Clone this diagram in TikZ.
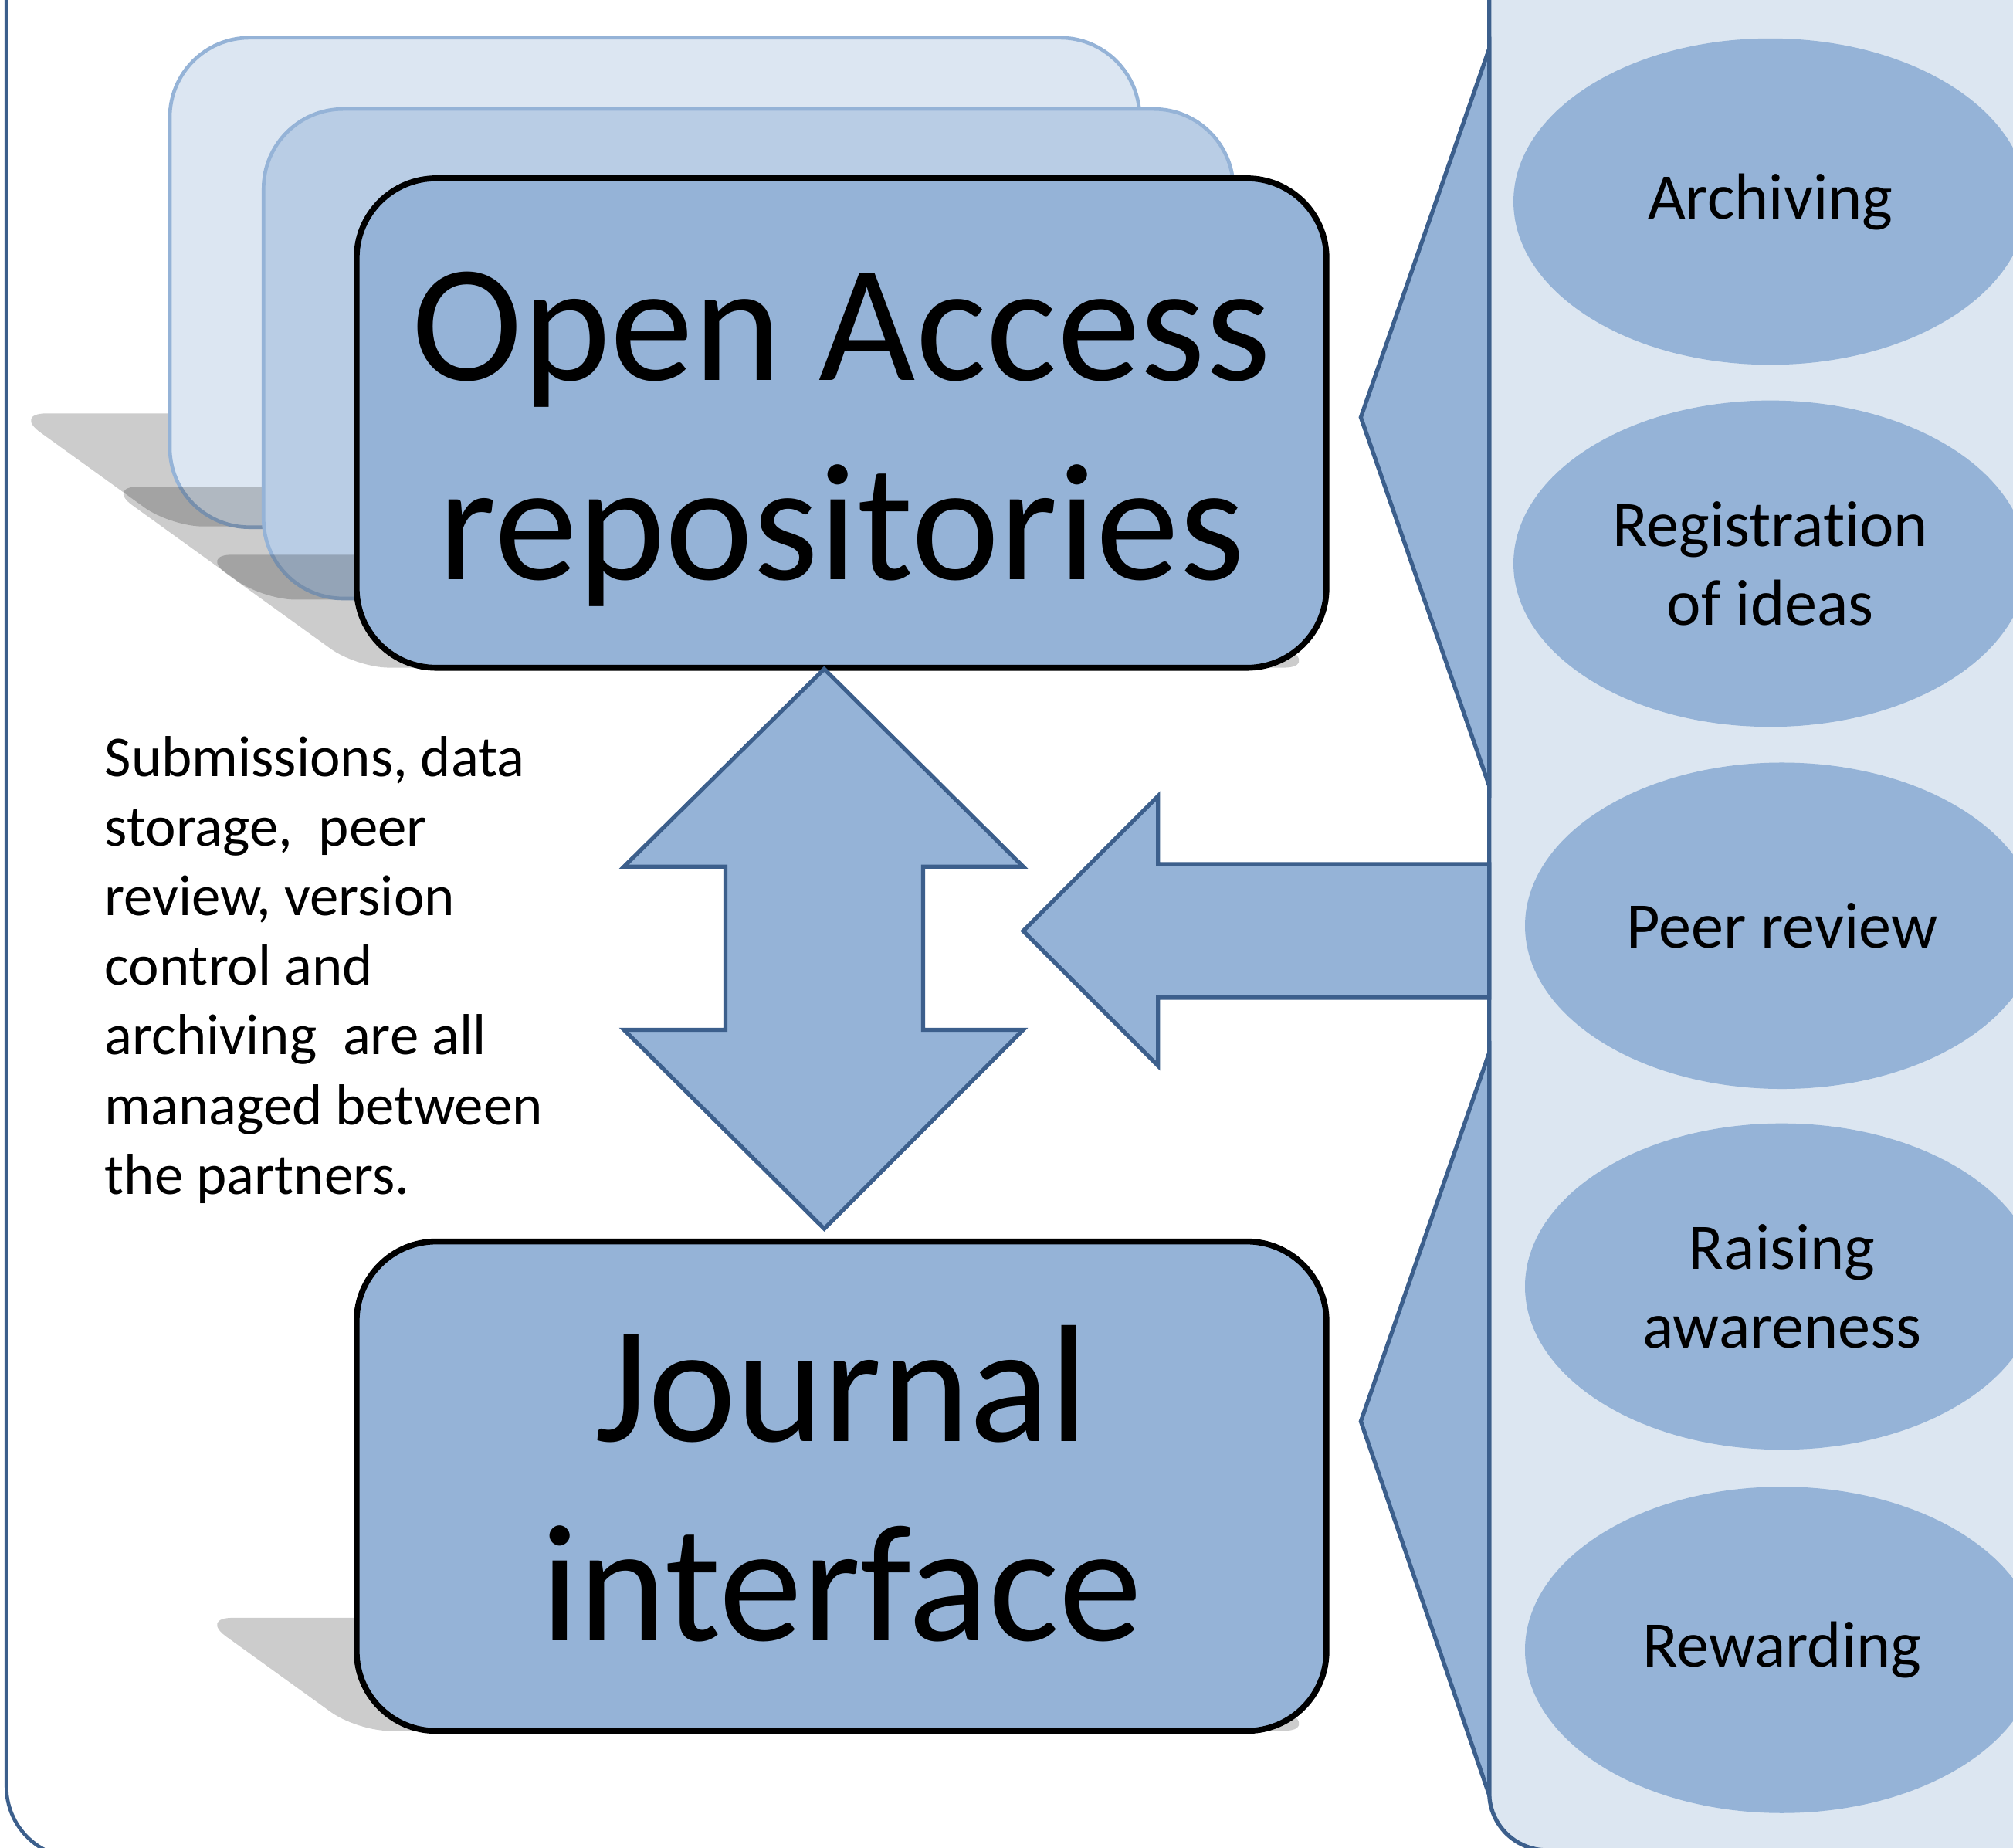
\documentclass[tikz,border=0pt]{standalone}
\usepackage{fontspec}
\setmainfont{Carlito}[Ligatures=NoCommon]
\usetikzlibrary{shapes.geometric}
\definecolor{midblue}{HTML}{95B3D7}
\definecolor{lightblue}{HTML}{DCE6F1}
\definecolor{paleblue}{HTML}{B9CDE5}
\definecolor{backblue}{HTML}{DCE6F2}
\definecolor{darkblue}{HTML}{3C5F8C}
\newcommand\mkshadow[3]{%
  \fill[shadowshape] (#1-122,#3-88) -- (#2-130,#3-88) -- (#2-8,#3) -- (#1,#3) -- cycle;}
\begin{document}
\begin{tikzpicture}[x=0.01cm,y=-0.01cm,
  bigbox/.style={draw=black, line width=1.3pt, fill=midblue, rounded corners=0.62cm,
    minimum width=7.55cm, minimum height=3.81cm, inner sep=0pt},
  bigtext/.style={align=center, inner sep=0pt, font=\fontsize{37}{44}\selectfont},
  backbox/.style={line width=0.8pt, rounded corners=0.62cm,
    minimum width=7.55cm, minimum height=3.81cm, inner sep=0pt},
  oval/.style={ellipse, fill=midblue, minimum width=4cm, minimum height=2.54cm,
    inner sep=0pt, align=center, font=\fontsize{14.4}{17.4}\selectfont},
  blueshape/.style={fill=midblue, draw=darkblue, line width=0.9pt, line join=miter},
  shadowshape/.style={fill=black, fill opacity=0.2, rounded corners=0.25cm}]
\useasboundingbox (0,0) rectangle (1568,1439);
\clip (0,0) rectangle (1568,1439);
% outer frame
\draw[darkblue, line width=0.8pt, rounded corners=0.555cm] (5,-100) rectangle (1800,1447);
% right panel
\draw[fill=lightblue, draw=darkblue, line width=0.9pt, rounded corners=0.45cm] (1160,-100) rectangle (1800,1441);
% callout triangles
\draw[blueshape] (1160,38) -- (1060,325) -- (1160,612) -- cycle;
\draw[blueshape] (1160,820) -- (1060,1107) -- (1160,1398) -- cycle;
% left arrow
\draw[blueshape] (1160,673) -- (902,673) -- (902,620) -- (797,725) -- (902,830) -- (902,777) -- (1160,777) -- cycle;
% ellipses
\node[oval] (e1) at (1379,157) {Archiving};
\node[oval] (e2) at (1379,439) {Registration\\of ideas};
\node[oval] (e3) at (1388,721) {Peer review};
\node[oval] (e4) at (1388,1002) {Raising\\awareness};
\node[oval] (e5) at (1388,1285) {Rewarding};
% stacked boxes
\mkshadow{133}{887}{410}
\node[backbox, draw=midblue, fill=backblue] (b1) at (510,220) {};
\mkshadow{205}{961}{467}
\node[backbox, draw=midblue, fill=paleblue] (b2) at (583,275.5) {};
\mkshadow{278}{1033}{520}
\node[bigbox] (oa) at (655.5,329.5) {};
\node[bigtext] (oatext) at (655.5,342) {Open Access\\repositories};
\mkshadow{278}{1033}{1348}
\node[bigbox] (ji) at (655.5,1157.5) {};
\node[bigtext] (jitext) at (655.5,1155.5) {Journal\\interface};
% double arrow
\draw[blueshape] (642,521) -- (797,675) -- (719,675) -- (719,802) -- (797,802) -- (642,957)
  -- (486,802) -- (565,802) -- (565,675) -- (486,675) -- cycle;
% note text
\node[anchor=north west, align=left, inner sep=0pt, font=\fontsize{12.8}{15.4}\selectfont] (note) at (81,573)
  {Submissions, data\\storage,\ \ peer\\review, version\\control and\\archiving\ \ are all\\managed between\\the partners.};
\end{tikzpicture}
\end{document}
